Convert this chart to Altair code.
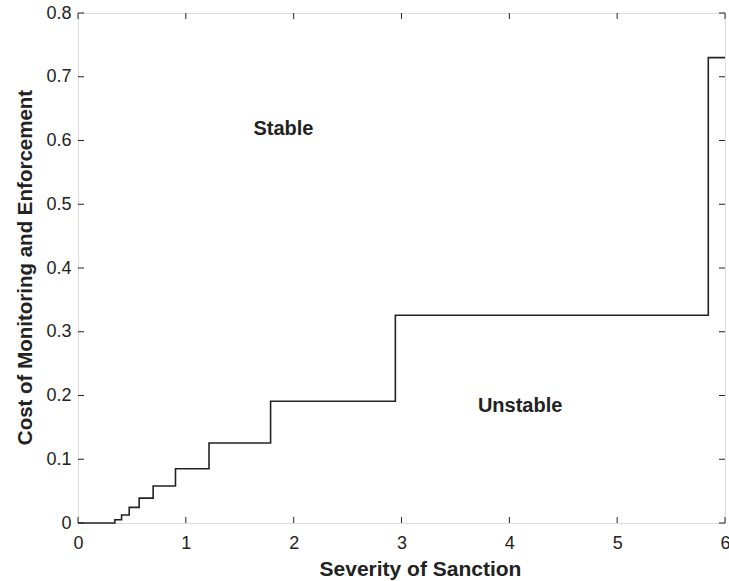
import altair as alt
import pandas as pd

# Step boundary between stable / unstable regions
step_x = [0, 0.342, 0.404, 0.475, 0.567, 0.697, 0.904, 1.215, 1.786, 2.943, 5.845, 6]
step_y = [0, 0.005, 0.0125, 0.0245, 0.039, 0.058, 0.085, 0.1255, 0.191, 0.326, 0.730, 0.730]

x_ticks = [0, 1, 2, 3, 4, 5, 6]
y_ticks = [0, 0.1, 0.2, 0.3, 0.4, 0.5, 0.6, 0.7, 0.8]

label_text = ["Stable", "Unstable"]
label_x = [1.905, 4.10]
label_y = [0.618, 0.1835]

W, H = 647, 510
TICK = 6
INK = "#222222"
FONT = "Liberation Sans"

step_df = pd.DataFrame({"x": step_x, "y": step_y})
xt_df = pd.DataFrame({"x": x_ticks})
yt_df = pd.DataFrame({"y": y_ticks})
lab_df = pd.DataFrame({"t": label_text, "x": label_x, "y": label_y})

xscale = alt.Scale(domain=[0, 6], nice=False, zero=False)
yscale = alt.Scale(domain=[0, 0.8], nice=False, zero=False)

xaxis = alt.Axis(
    values=x_ticks, domain=False, ticks=False, tickSize=0, grid=False,
    format="d", labelFlush=False, labelOverlap=False,
    labelFontSize=18, labelFont=FONT, labelColor=INK, labelPadding=11,
    title="Severity of Sanction", titleFont=FONT, titleFontSize=21,
    titleFontWeight="bold", titleColor=INK, titleX=342, titleY=52,
    titleAlign="center", titleBaseline="alphabetic",
)
yaxis = alt.Axis(
    values=y_ticks, domain=False, ticks=False, tickSize=0, grid=False,
    labelFlush=False, labelOverlap=False,
    labelFontSize=18, labelFont=FONT, labelColor=INK, labelPadding=7,
    labelExpr="datum.value == 0 ? '0' : format(datum.value, '.1f')",
    title="Cost of Monitoring and Enforcement", titleFont=FONT,
    titleFontSize=20.5, titleFontWeight="bold", titleColor=INK,
    titleAngle=270, titleX=-47, titleY=254, titleAlign="center",
    titleBaseline="alphabetic",
)

line = alt.Chart(step_df).mark_line(
    interpolate="step-after", color=INK, strokeWidth=1.6
).encode(
    x=alt.X("x:Q", scale=xscale, axis=xaxis),
    y=alt.Y("y:Q", scale=yscale, axis=yaxis),
)

bottom_ticks = alt.Chart(xt_df).mark_rule(color=INK, strokeWidth=1).encode(
    x=alt.X("x:Q", scale=xscale), y=alt.value(H - TICK), y2=alt.value(H)
)
top_ticks = alt.Chart(xt_df).mark_rule(color=INK, strokeWidth=1).encode(
    x=alt.X("x:Q", scale=xscale), y=alt.value(0), y2=alt.value(TICK)
)
left_ticks = alt.Chart(yt_df).mark_rule(color=INK, strokeWidth=1).encode(
    y=alt.Y("y:Q", scale=yscale), x=alt.value(0), x2=alt.value(TICK)
)
right_ticks = alt.Chart(yt_df).mark_rule(color=INK, strokeWidth=1).encode(
    y=alt.Y("y:Q", scale=yscale), x=alt.value(W - TICK), x2=alt.value(W)
)

labels = alt.Chart(lab_df).mark_text(
    font=FONT, fontSize=20, fontWeight="bold", color=INK,
    align="center", baseline="middle"
).encode(
    x=alt.X("x:Q", scale=xscale),
    y=alt.Y("y:Q", scale=yscale),
    text="t:N",
)

chart = alt.layer(
    bottom_ticks, top_ticks, left_ticks, right_ticks, line, labels
).properties(
    width=W, height=H,
    autosize=alt.AutoSizeParams(type="none"),
    padding={"left": 78, "top": 13, "right": 4, "bottom": 58},
).configure_view(
    stroke=INK, strokeWidth=1.4
).configure(background="white")

chart.save("out.html", embed_options={"renderer": "svg", "actions": False})
